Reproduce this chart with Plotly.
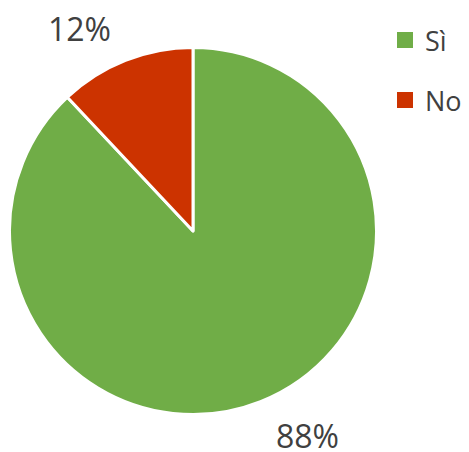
import plotly.graph_objects as go

labels = ["Sì", "No"]
values = [88, 12]
colors = ["#70AD47", "#CC3300"]
label_text = ["88%", "12%"]

# page body has an 8px margin; figure sized to fit the window exactly
OFF = 8
W, H = 469 - OFF, 452 - OFF


def px(sx):
    return (sx - OFF) / W


def py(sy):
    return 1 - (sy - OFF) / H


cx, cy, r = 193, 231, 183.5
TXT = "#404040"
FONT = "Open Sans"

fig = go.Figure()
fig.add_trace(go.Pie(
    labels=labels, values=values, sort=False, direction="clockwise", rotation=0,
    marker=dict(colors=colors, line=dict(color="white", width=3)),
    textinfo="none", hoverinfo="label+percent", showlegend=False,
    domain=dict(x=[px(cx - r), px(cx + r)], y=[py(cy + r), py(cy - r)]),
))

# percentage labels
fig.add_annotation(x=px(79), y=py(28), xref="paper", yref="paper", text=label_text[1],
                   xanchor="center", yanchor="middle", showarrow=False, height=30,
                   font=dict(size=32, color=TXT, family=FONT))
fig.add_annotation(x=px(307), y=py(435), xref="paper", yref="paper", text=label_text[0],
                   xanchor="center", yanchor="middle", showarrow=False, height=26,
                   font=dict(size=32, color=TXT, family=FONT))

# legend (drawn manually to match spacing)
leg_y = [40, 100]
for lab, col, yy in zip(labels, colors, leg_y):
    fig.add_shape(type="rect", xref="paper", yref="paper",
                  x0=px(397), x1=px(413), y0=py(yy + 8), y1=py(yy - 8),
                  fillcolor=col, line=dict(width=0))
    fig.add_annotation(x=px(423), y=py(yy), xref="paper", yref="paper", text=lab,
                       xanchor="left", yanchor="middle", showarrow=False,
                       font=dict(size=27, color=TXT, family=FONT))

fig.update_layout(
    width=W, height=H, margin=dict(l=0, r=0, t=0, b=0),
    paper_bgcolor="white", plot_bgcolor="white",
    font=dict(family=FONT, color=TXT),
    showlegend=False,
)
fig.write_html("out.html")
